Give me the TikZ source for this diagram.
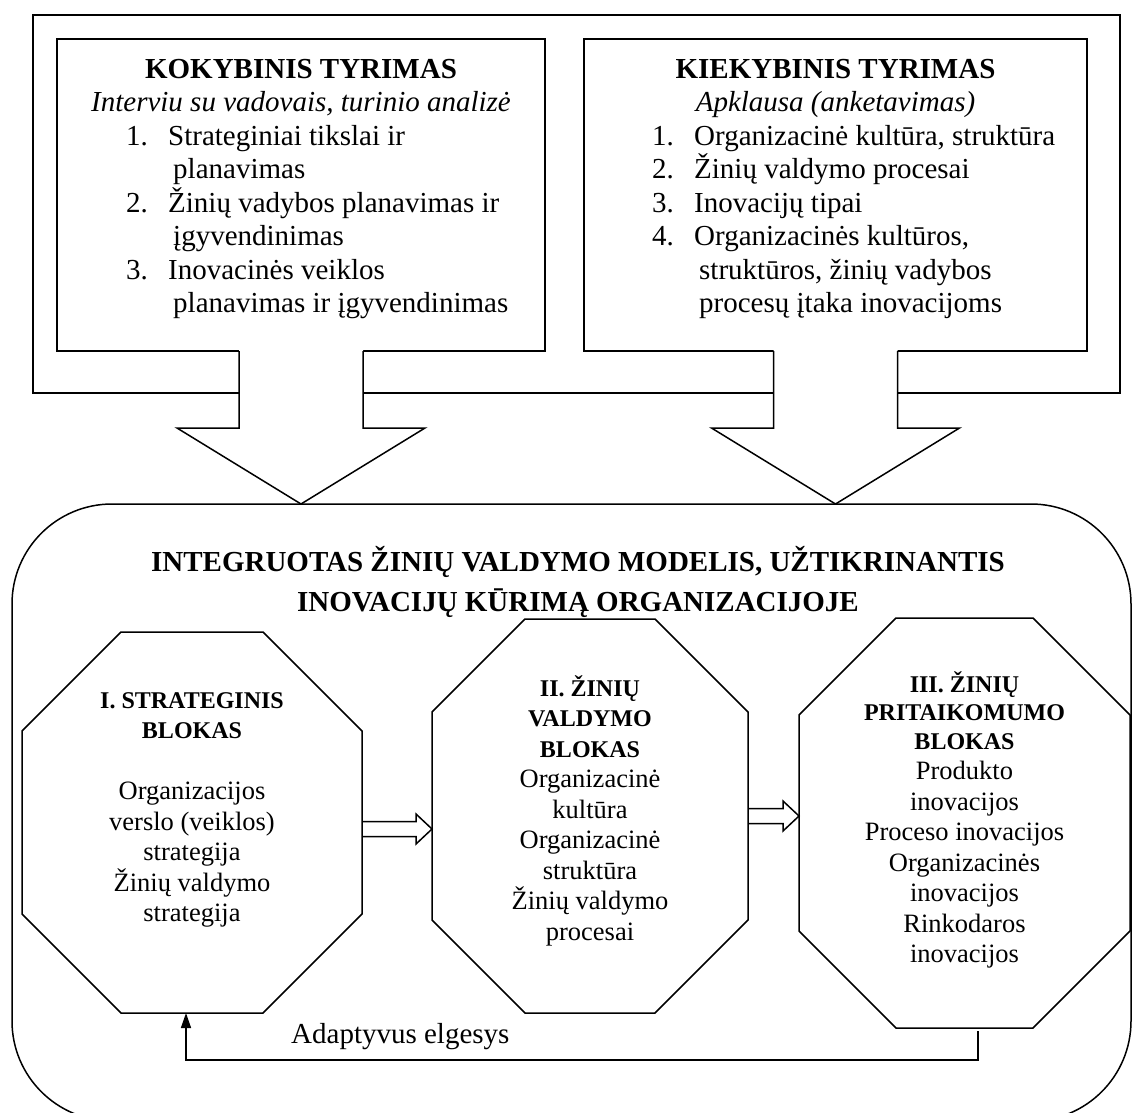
\documentclass[tikz,border=0pt]{standalone}
\usepackage{fontspec}
\setmainfont{Liberation Serif}
\usetikzlibrary{positioning, arrows.meta}
\tikzset{
  ramas/.style={rectangle, draw=black, line width=1.5pt, inner sep=0pt, outer sep=0pt},
  box/.style={ramas},
  head/.style={align=center, inner sep=0pt, font=\fontsize{29}{33}\selectfont},
  list/.style={align=left, inner sep=0pt, font=\fontsize{29}{33.5}\selectfont},
  model/.style={rectangle, draw=black, line width=1.5pt, rounded corners=100pt, inner sep=0pt, outer sep=0pt},
  pavad/.style={align=center, inner sep=0pt, font=\fontsize{29}{40}\selectfont\bfseries},
  blokas/.style={rectangle, inner sep=0pt, outer sep=0pt},
  bloktext/.style={align=center, inner sep=0pt, font=\fontsize{26.5}{30.5}\selectfont},
  octline/.style={draw=black, line width=1.5pt},
  bigarrow/.style={draw=black, line width=1.5pt},
  hollow/.style={draw=black, line width=1.5pt},
  pastaba/.style={inner sep=0pt, font=\fontsize{29}{33}\selectfont},
  arrow/.style={line width=1.5pt, -{Triangle[length=15pt, width=10pt]}},
}
\newcommand{\blk}[1]{{\fontsize{24}{28}\selectfont\bfseries #1}}
\newcommand{\nr}[1]{\makebox[42pt][l]{#1}}
% octagon round a node, #2 = size of the cut corner
\newcommand{\octagon}[2]{%
  \draw[octline] ([xshift=#2]#1.north west) -- ([xshift=-#2]#1.north east)
    -- ([yshift=-#2]#1.north east) -- ([yshift=#2]#1.south east)
    -- ([xshift=-#2]#1.south east) -- ([xshift=#2]#1.south west)
    -- ([yshift=#2]#1.south west) -- ([yshift=-#2]#1.north west) -- cycle;}
% wide arrow down from a box
\newcommand{\bigarrow}[1]{%
  \fill[white] ([xshift=-62pt, yshift=1pt]#1.south) -- ++(0,78) -- ++(-62,0) -- ++(124,76)
    -- ++(124,-76) -- ++(-62,0) -- ++(0,-78) -- cycle;
  \draw[bigarrow] ([xshift=-62pt]#1.south) -- ++(0,77) -- ++(-62,0) -- ++(124,76)
    -- ++(124,-76) -- ++(-62,0) -- ++(0,-77);}
% hollow arrow between two blocks
\newcommand{\hollowarrow}[2]{%
  \draw[hollow] ([yshift=7.5pt]#1) -- ([xshift=-16pt, yshift=7.5pt]#2) -- ([xshift=-16pt, yshift=15pt]#2)
    -- (#2) -- ([xshift=-16pt, yshift=-15pt]#2) -- ([xshift=-16pt, yshift=-7.5pt]#2) -- ([yshift=-7.5pt]#1);}

\begin{document}
\begin{tikzpicture}[x=1pt, y=-1pt]
  \useasboundingbox (0,0) rectangle (1132,1113);

  % tyrimai
  \node[ramas, minimum width=1087pt, minimum height=378pt, anchor=north west] (tyrimai) at (33,15) {};
  \node[box, minimum width=488pt, minimum height=312pt, anchor=north west] (kok) at (57,39) {};
  \node[box, minimum width=503pt, minimum height=312pt, right=39pt of kok] (kiek) {};

  \node[head, anchor=north] (kokhead) at ([yshift=-20pt]kok.north) {\textbf{KOKYBINIS TYRIMAS}\\ \textit{Interviu su vadovais, turinio analizė}};
  \node[list, anchor=north west] (koklist) at ([xshift=69pt, yshift=-86pt]kok.north west) {\nr{1.}Strateginiai tikslai ir\\ \hspace*{47pt}planavimas\\ \nr{2.}Žinių vadybos planavimas ir\\ \hspace*{47pt}įgyvendinimas\\ \nr{3.}Inovacinės veiklos\\ \hspace*{47pt}planavimas ir įgyvendinimas};

  \node[head, anchor=north] (kiekhead) at ([yshift=-20pt]kiek.north) {\textbf{KIEKYBINIS TYRIMAS}\\ \textit{Apklausa (anketavimas)}};
  \node[list, anchor=north west] (kieklist) at ([xshift=68pt, yshift=-86pt]kiek.north west) {\nr{1.}Organizacinė kultūra, struktūra\\ \nr{2.}Žinių valdymo procesai\\ \nr{3.}Inovacijų tipai\\ \nr{4.}Organizacinės kultūros,\\ \hspace*{47pt}struktūros, žinių vadybos\\ \hspace*{47pt}procesų įtaka inovacijoms};

  \bigarrow{kok}
  \bigarrow{kiek}

  % modelis
  \node[model, minimum width=1119pt, minimum height=617pt, anchor=north west] (modelis) at (12,504) {};
  \node[pavad, anchor=north] (pavadinimas) at ([xshift=6.5pt, yshift=-42pt]modelis.north) {INTEGRUOTAS ŽINIŲ VALDYMO MODELIS, UŽTIKRINANTIS\\ INOVACIJŲ KŪRIMĄ ORGANIZACIJOJE};

  \node[blokas, minimum width=340pt, minimum height=381pt, anchor=north west] (oct1) at (22,632) {};
  \node[blokas, minimum width=316pt, minimum height=394pt, anchor=north west] (oct2) at (432,619) {};
  \node[blokas, minimum width=331pt, minimum height=410pt, anchor=north west] (oct3) at (799,618) {};
  \octagon{oct1}{99pt}
  \octagon{oct2}{93pt}
  \octagon{oct3}{97pt}

  \node[bloktext, anchor=north] (oct1txt) at ([yshift=-60pt]oct1.north) {\blk{I. STRATEGINIS}\\ \blk{BLOKAS}\\[30.5pt] Organizacijos\\ verslo (veiklos)\\ strategija\\ Žinių valdymo\\ strategija};
  \node[bloktext, anchor=north] (oct2txt) at ([yshift=-56pt]oct2.north) {\blk{II. ŽINIŲ}\\ \blk{VALDYMO}\\ \blk{BLOKAS}\\ Organizacinė\\ kultūra\\ Organizacinė\\ struktūra\\ Žinių valdymo\\ procesai};
  \node[bloktext, anchor=north] (oct3txt) at ([yshift=-53pt]oct3.north) {\blk{III. ŽINIŲ}\\[-2pt] \blk{PRITAIKOMUMO}\\[-2pt] \blk{BLOKAS}\\ Produkto\\ inovacijos\\ Proceso inovacijos\\ Organizacinės\\ inovacijos\\ Rinkodaros\\ inovacijos};

  \coordinate (a1) at ([yshift=-6.5pt]oct1.east);
  \coordinate (t1) at (oct2.west |- a1);
  \coordinate (a2) at (oct2.east);
  \coordinate (t2) at (oct3.west |- a2);
  \hollowarrow{a1}{t1}
  \hollowarrow{a2}{t2}

  \draw[arrow] ([xshift=13.5pt, yshift=-3pt]oct3.south) -- ++(0,29) -| ([xshift=-6pt]oct1.south);
  \node[pastaba, anchor=base west] (adapt) at (291,1043) {Adaptyvus elgesys};
\end{tikzpicture}
\end{document}
